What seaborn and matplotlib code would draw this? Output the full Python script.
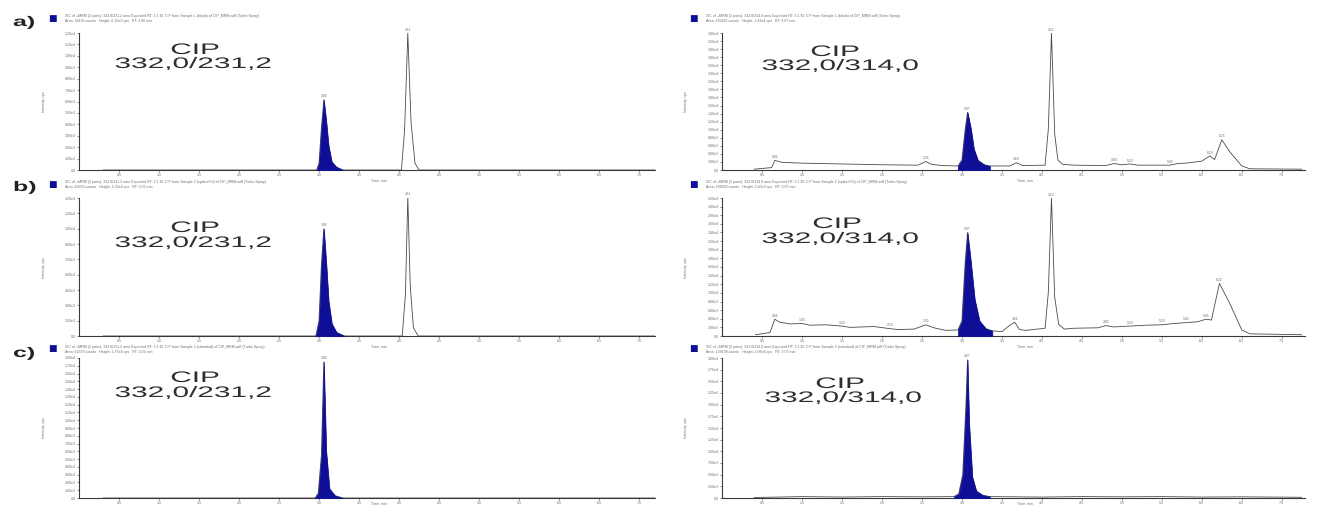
import numpy as np
import pandas as pd
import matplotlib
matplotlib.use("Agg")
import matplotlib.pyplot as plt
from matplotlib.patheffects import AbstractPathEffect
from matplotlib.transforms import Affine2D
import seaborn as sns

# ---------------------------------------------------------------------------
# Chromatogram traces (time in min, intensity in cps)
# ---------------------------------------------------------------------------
# a) left: 332,0/231,2
A_L_T = [0.30, 2.97, 3.00, 3.03, 3.06, 3.09, 3.12, 3.16, 3.22, 3.30,
         4.03, 4.07, 4.11, 4.15, 4.20, 4.25, 7.20]
A_L_Y = [0, 0, 600, 3700, 6150, 4300, 2100, 700, 250, 0,
         0, 3500, 12000, 4200, 600, 0, 0]
A_L_BLUE = (2.97, 3.30)
A_L_PEAKS = [3.06, 4.11]

# a) right: 332,0/314,0
A_R_T = [0.40, 0.62, 0.66, 0.75, 1.00, 1.50, 2.00, 2.45, 2.55, 2.62,
         2.75, 2.95, 3.00, 3.04, 3.07, 3.11, 3.15, 3.20, 3.28, 3.35,
         3.60, 3.68, 3.76, 4.04, 4.08, 4.12, 4.16, 4.20, 4.26, 4.40,
         4.80, 4.90, 5.00, 5.10, 5.20, 5.60, 5.70, 5.80, 6.00, 6.10,
         6.16, 6.25, 6.35, 6.50, 6.60, 7.25]
A_R_Y = [200, 600, 2400, 1900, 1700, 1500, 1300, 1200, 2100, 1400,
         1100, 1000, 2500, 10000, 14300, 10500, 5200, 2400, 1300, 1000,
         1000, 1800, 1100, 1200, 10000, 34000, 9000, 2500, 1400, 1200,
         1100, 1600, 1300, 1500, 1200, 1200, 1600, 1700, 2200, 3500,
         2600, 7500, 4500, 1000, 300, 200]
A_R_BLUE = (2.95, 3.35)
A_R_PEAKS = [0.66, 2.55, 3.07, 3.68, 4.12, 4.90, 5.10, 5.60, 6.10, 6.25]

# b) left: 332,0/231,2
B_L_T = [0.30, 2.96, 3.00, 3.03, 3.06, 3.09, 3.12, 3.16, 3.22, 3.32,
         4.04, 4.08, 4.11, 4.14, 4.18, 4.24, 7.20]
B_L_Y = [0, 0, 1500, 7000, 10500, 7200, 3400, 1200, 350, 0,
         0, 4000, 13600, 5000, 800, 0, 0]
B_L_BLUE = (2.96, 3.32)
B_L_PEAKS = [3.06, 4.11]

# b) right: 332,0/314,0
B_R_T = [0.42, 0.60, 0.66, 0.72, 0.85, 1.00, 1.10, 1.30, 1.50, 1.60,
         1.90, 2.10, 2.20, 2.40, 2.55, 2.65, 2.80, 2.95, 3.00, 3.04,
         3.07, 3.11, 3.16, 3.22, 3.30, 3.38, 3.50, 3.60, 3.66, 3.72,
         3.80, 4.04, 4.08, 4.12, 4.16, 4.21, 4.28, 4.40, 4.70, 4.80,
         4.90, 5.10, 5.30, 5.50, 5.65, 5.80, 5.95, 6.05, 6.12, 6.22,
         6.35, 6.50, 6.60, 7.25]
B_R_Y = [300, 800, 3900, 3200, 2800, 2900, 2500, 2600, 2300, 2000,
         2200, 1700, 1500, 1600, 2600, 1900, 1300, 1400, 3500, 17000,
         24000, 17500, 8500, 3500, 1700, 1200, 1000, 2500, 3200, 1500,
         1300, 1800, 10000, 32000, 9000, 2700, 1600, 1800, 1900, 2400,
         2100, 2300, 2500, 2600, 2900, 3100, 3300, 3900, 3700, 12200,
         7500, 1400, 500, 300]
B_R_BLUE = (2.95, 3.38)
B_R_PEAKS = [0.66, 1.00, 1.50, 2.10, 2.55, 3.07, 3.66, 4.12, 4.80,
             5.10, 5.50, 5.80, 6.05, 6.22]

# c) left: 332,0/231,2
C_L_T = [0.30, 2.95, 2.99, 3.03, 3.06, 3.09, 3.13, 3.20, 3.30, 7.20]
C_L_Y = [0, 0, 600, 5500, 17500, 6000, 1200, 300, 0, 0]
C_L_BLUE = (2.95, 3.30)
C_L_PEAKS = [3.06]

# c) right: 332,0/314,0
C_R_T = [0.40, 1.00, 1.50, 2.00, 2.50, 2.90, 2.96, 3.01, 3.05, 3.07,
         3.09, 3.13, 3.18, 3.26, 3.35, 4.00, 4.50, 5.00, 5.50, 6.00,
         6.50, 7.25]
C_R_Y = [100, 300, 200, 300, 250, 300, 900, 5000, 20000, 29600,
         16000, 4500, 1500, 600, 300, 200, 300, 250, 300, 200,
         250, 150]
C_R_BLUE = (2.90, 3.35)
C_R_PEAKS = [3.07]

# y-axis scale per panel: (top, step)
Y_SCALES = {"aL": (12000, 1000), "aR": (34000, 2000),
            "bL": (13500, 1500), "bR": (32000, 2000),
            "cL": (18000, 1000), "cR": (30000, 2500)}

X_TICKS = [0.5, 1.0, 1.5, 2.0, 2.5, 3.0, 3.5, 4.0, 4.5, 5.0, 5.5, 6.0, 6.5, 7.0]
X_LIMITS = {"L": (0.0, 7.20), "R": (0.0, 7.29)}

TRANSITIONS = {"L": "332,0/231,2", "R": "332,0/314,0"}
ROW_LETTERS = ["a)", "b)", "c)"]
SAMPLES = ["Sample 1 (blank) of CIP_MRM.wiff (Turbo Spray)",
           "Sample 2 (spiked 50) of CIP_MRM.wiff (Turbo Spray)",
           "Sample 3 (standard) of CIP_MRM.wiff (Turbo Spray)"]

# ---------------------------------------------------------------------------
W, H = 1325, 505
BLUE = "#0e0e96"
TRACE = "#4a4a4a"
GREY = "#6f6f6f"
INK = "#2e2e2e"

sns.set_style("ticks")
plt.rcParams["font.family"] = ["Liberation Sans", "DejaVu Sans"]

fig = plt.figure(figsize=(W / 100, H / 100), dpi=100)


class WideGlyphs(AbstractPathEffect):
    """Draw a text's glyphs scaled horizontally about its anchor point."""

    def __init__(self, sx):
        super().__init__()
        self.sx = sx
        self.anchor = None

    def draw_path(self, renderer, gc, tpath, affine, rgbFace=None):
        cx = self.anchor.get_transform().transform(self.anchor.get_position())[0]
        widen = Affine2D().translate(-cx, 0).scale(self.sx, 1).translate(cx, 0)
        renderer.draw_path(gc, tpath, affine + widen, rgbFace)


def wide_text(x, y, s, sx, **kw):
    txt = fig.text(x, y, s, **kw)
    pe = WideGlyphs(sx)
    pe.anchor = txt
    txt.set_path_effects([pe])
    return txt


def fx(x):
    return x / W


def fy(y):
    return 1 - y / H


def sci(v):
    if v == 0:
        return "0.0"
    e = int(np.floor(np.log10(v)))
    return f"{v / 10 ** e:.2f}e{e}"


# pixel geometry of each column / row
COLS = {"L": (79, 655), "R": (722, 1305)}
ROWS = [(33, 170), (198, 336), (358, 498)]
XLABEL_Y = [-0.06, -0.06, -0.025]
CIP_POS = {("a", "L"): ((195, 50), (193, 64)),
           ("a", "R"): ((835, 52), (840, 66)),
           ("b", "L"): ((195, 228), (193, 243)),
           ("b", "R"): ((837, 224), (840, 239)),
           ("c", "L"): ((195, 378), (193, 393)),
           ("c", "R"): ((840, 384), (843, 398))}
LEGEND_Y = [18, 184, 349]
LETTER_Y = [22, 187, 353]

panels = [
    ("a", "L", A_L_T, A_L_Y, A_L_BLUE, A_L_PEAKS),
    ("a", "R", A_R_T, A_R_Y, A_R_BLUE, A_R_PEAKS),
    ("b", "L", B_L_T, B_L_Y, B_L_BLUE, B_L_PEAKS),
    ("b", "R", B_R_T, B_R_Y, B_R_BLUE, B_R_PEAKS),
    ("c", "L", C_L_T, C_L_Y, C_L_BLUE, C_L_PEAKS),
    ("c", "R", C_R_T, C_R_Y, C_R_BLUE, C_R_PEAKS),
]

for row_key, col_key, t, y, blue, peaks in panels:
    r = "abc".index(row_key)
    x0, x1 = COLS[col_key]
    top, bot = ROWS[r]
    ax = fig.add_axes([fx(x0), fy(bot), (x1 - x0) / W, (bot - top) / H])

    t = np.asarray(t, float)
    y = np.asarray(y, float)
    df = pd.DataFrame({"Time, min": t, "Intensity, cps": y})
    sns.lineplot(data=df, x="Time, min", y="Intensity, cps", ax=ax,
                 color=TRACE, lw=0.6, estimator=None, sort=False)

    m = (t >= blue[0]) & (t <= blue[1])
    ax.fill_between(t[m], 0, y[m], color=BLUE, lw=0.5, edgecolor=BLUE, zorder=3)

    ytop, ystep = Y_SCALES[row_key + col_key]
    ax.set_xlim(*X_LIMITS[col_key])
    ax.set_ylim(0, ytop)
    yt = np.arange(0, ytop + 1, ystep)
    ax.set_yticks(yt)
    ax.set_yticklabels([sci(v) for v in yt])
    ax.set_xticks(X_TICKS)
    ax.set_xticklabels([f"{v:.1f}" for v in X_TICKS])
    ax.tick_params(axis="both", labelsize=2.6, length=1.5,
                   width=0.5, pad=0.8, colors="#555555")
    ax.tick_params(axis="both", labelcolor=GREY)
    for s in ("top", "right"):
        ax.spines[s].set_visible(False)
    for s in ("left", "bottom"):
        ax.spines[s].set_linewidth(0.8)
        ax.spines[s].set_color("#3a3a3a")
    ax.set_xlabel("Time, min", fontsize=2.6, color=GREY, labelpad=1)
    ax.xaxis.set_label_coords(0.52, XLABEL_Y[r])
    ax.set_ylabel("Intensity, cps", fontsize=2.6, color=GREY)
    ax.yaxis.set_label_coords(-0.058, 0.5)
    ax.patch.set_alpha(0)

    # retention-time labels above peaks
    for tp in peaks:
        yp = np.interp(tp, t, y)
        ax.text(tp, yp + ytop * 0.01, f"{tp:.2f}", ha="center", va="bottom",
                fontsize=2.4, color=GREY, clip_on=False)

    # analyte / transition annotation
    (cx, cy), (nx, ny) = CIP_POS[(row_key, col_key)]
    wide_text(fx(cx), fy(cy), "CIP", 1.95, ha="center", va="center",
              fontsize=11, color=INK)
    wide_text(fx(nx), fy(ny), TRANSITIONS[col_key], 1.95, ha="center",
              va="center", fontsize=11, color=INK)

    # trace legend header
    lx = 52 if col_key == "L" else 693
    ly = LEGEND_Y[r]
    fig.text(fx(lx), fy(ly), "\u25A0", ha="center", va="center",
             fontsize=6.5, color=BLUE, family="DejaVu Sans")
    trans = TRANSITIONS[col_key].replace(",", ".")
    fig.text(fx(lx + 13), fy(ly - 2),
             f"XIC of +MRM (2 pairs): {trans} amu Expected RT: 3.1 ID: CIP from "
             f"{SAMPLES[r]}", ha="left", va="center", fontsize=2.6, color=GREY)
    fig.text(fx(lx + 13), fy(ly + 3),
             f"Area: {int(np.trapezoid(y[m], t[m] * 60))} counts   "
             f"Height: {sci(y[m].max())} cps   RT: {t[m][np.argmax(y[m])]:.2f} min",
             ha="left", va="center", fontsize=2.6, color=GREY)

for r, letter in enumerate(ROW_LETTERS):
    wide_text(fx(13), fy(LETTER_Y[r]), letter, 1.8, ha="left", va="center",
              fontsize=10, fontweight="bold", color="#222222")

fig.savefig("out.png", dpi=100, facecolor="white")
